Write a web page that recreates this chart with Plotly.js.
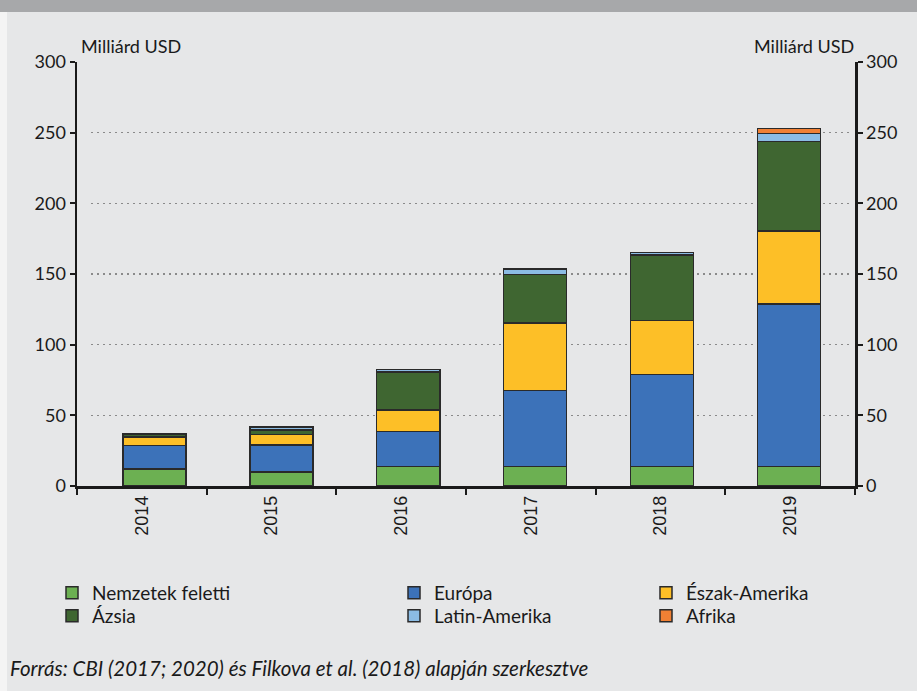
<!DOCTYPE html>
<html>
<head>
<meta charset="utf-8">
<script src="https://cdn.plot.ly/plotly-3.0.1.min.js"></script>
<style>
  html, body { margin:0; padding:0; background:#e6e7e8; width:917px; height:691px; overflow:hidden; }
  #topband { position:absolute; left:0; top:0; width:917px; height:12px; background:#a7a8aa; }
  #leftstrip { position:absolute; left:0; top:12px; width:7px; height:679px; background:#f4f4f4; }
  #chart { position:absolute; left:0; top:0; width:917px; height:691px; }
</style>
</head>
<body>
<div id="topband"></div>
<div id="leftstrip"></div>
<div id="chart"></div>
<script>
const years = ['2014', '2015', '2016', '2017', '2018', '2019'];
const nemzetekFeletti = [12, 10, 13.7, 13.7, 13.7, 13.7];
const europa = [16.5, 19, 25, 53.8, 65.3, 115.1];
const eszakAmerika = [6, 7.3, 15.1, 47.8, 38.2, 51.8];
const azsia = [2, 3.5, 26.9, 34.5, 46.2, 63];
const latinAmerika = [0.5, 2, 1.9, 3.7, 1.7, 5.9];
const afrika = [0, 0, 0, 0, 0, 3.6];

const seriesNames = ['Nemzetek feletti', 'Európa', 'Észak-Amerika', 'Ázsia', 'Latin-Amerika', 'Afrika'];
const seriesData = [nemzetekFeletti, europa, eszakAmerika, azsia, latinAmerika, afrika];
const seriesColors = ['#6cb052', '#3c72b9', '#fdbf27', '#3f6631', '#8bbce4', '#f08034'];

const W = 917, H = 691;
const mL = 77, mR = 62, mT = 62, mB = 205;
const pw = W - mL - mR, ph = H - mT - mB;
const px = v => (v - mL) / pw;
const py = v => (H - mB - v) / ph;

const fontMain = 'Lato, "Open Sans", sans-serif';

// legend placement (col x of swatch start, row y centre) in pixels
const legendPos = [[52, 593], [394, 593], [646, 593], [52, 616], [394, 616], [646, 616]];
const legendIds = ['legend', 'legend2', 'legend3', 'legend4', 'legend5', 'legend6'];

const traces = seriesNames.map((n, i) => ({
  type: 'bar',
  name: n,
  x: years,
  y: seriesData[i],
  xaxis: 'x2',
  yaxis: 'y',
  marker: { color: seriesColors[i], line: { color: '#2a2a2a', width: 1.5 } },
  legend: legendIds[i],
  hoverinfo: 'x+y+name'
}));
// invisible trace to activate the labelled category axis and the right axis
traces.push({ type: 'scatter', x: years, y: [0,0,0,0,0,0], xaxis: 'x', yaxis: 'y2', mode: 'none', showlegend: false, hoverinfo: 'skip' });

const legendBase = {
  orientation: 'v', xanchor: 'left', yanchor: 'middle', yref: 'paper', xref: 'paper',
  bgcolor: 'rgba(0,0,0,0)', font: { family: fontMain, size: 19, color: '#1a1a1a' },
  itemwidth: 30, traceorder: 'normal'
};

const layout = {
  width: W, height: H,
  margin: { l: mL, r: mR, t: mT, b: mB },
  paper_bgcolor: 'rgba(0,0,0,0)',
  plot_bgcolor: '#e6e7e8',
  barmode: 'stack',
  bargap: 0.503,
  font: { family: fontMain, color: '#1a1a1a' },
  xaxis: {
    type: 'category',
    range: [-0.5, 5.5],
    tickangle: -90,
    tickson: 'boundaries',
    ticks: 'outside', ticklen: 6, tickwidth: 2, tickcolor: '#1a1a1a',
    showline: true, linecolor: '#1a1a1a', linewidth: 2.5,
    tickfont: { family: '"Liberation Sans", Arial, sans-serif', size: 18, color: '#1a1a1a' },
    showgrid: false, zeroline: false, fixedrange: true
  },
  xaxis2: {
    type: 'category', anchor: 'y', visible: false, range: [-0.5, 5.5],
    domain: [px(91), px(852.4)], showgrid: false, zeroline: false
  },
  yaxis: {
    range: [0, 300], dtick: 50,
    ticks: 'outside', ticklen: 5, tickwidth: 2, tickcolor: '#1a1a1a',
    showline: true, linecolor: '#1a1a1a', linewidth: 2.5,
    showgrid: true, gridcolor: '#8a8a8a', griddash: '2px,4px', gridwidth: 1.5,
    zeroline: false,
    tickfont: { family: fontMain, size: 18, color: '#1a1a1a' }
  },
  yaxis2: {
    range: [0, 300], dtick: 50, overlaying: 'y', side: 'right',
    ticks: 'outside', ticklen: 5, tickwidth: 2, tickcolor: '#1a1a1a',
    showline: true, linecolor: '#1a1a1a', linewidth: 2.5,
    showgrid: false, zeroline: false,
    tickfont: { family: fontMain, size: 18, color: '#1a1a1a' }
  },
  annotations: [
    { text: 'Milliárd USD', xref: 'paper', yref: 'paper', x: px(79), y: py(46), xanchor: 'left', yanchor: 'middle',
      showarrow: false, font: { family: fontMain, size: 18, color: '#1a1a1a' } },
    { text: 'Milliárd USD', xref: 'paper', yref: 'paper', x: px(856), y: py(46), xanchor: 'right', yanchor: 'middle',
      showarrow: false, font: { family: fontMain, size: 18, color: '#1a1a1a' } },
    { text: '<i>Forrás: CBI (2017; 2020) és Filkova et al. (2018) alapján szerkesztve</i>', xref: 'paper', yref: 'paper',
      x: px(8), y: py(668), xanchor: 'left', yanchor: 'middle', showarrow: false,
      font: { family: fontMain, size: 20.5, color: '#1a1a1a' } }
  ]
};
legendIds.forEach((id, i) => {
  layout[id] = Object.assign({}, legendBase, { x: px(legendPos[i][0]), y: py(legendPos[i][1]) });
});

Plotly.newPlot('chart', traces, layout, { displayModeBar: false, staticPlot: true });
</script>
</body>
</html>
